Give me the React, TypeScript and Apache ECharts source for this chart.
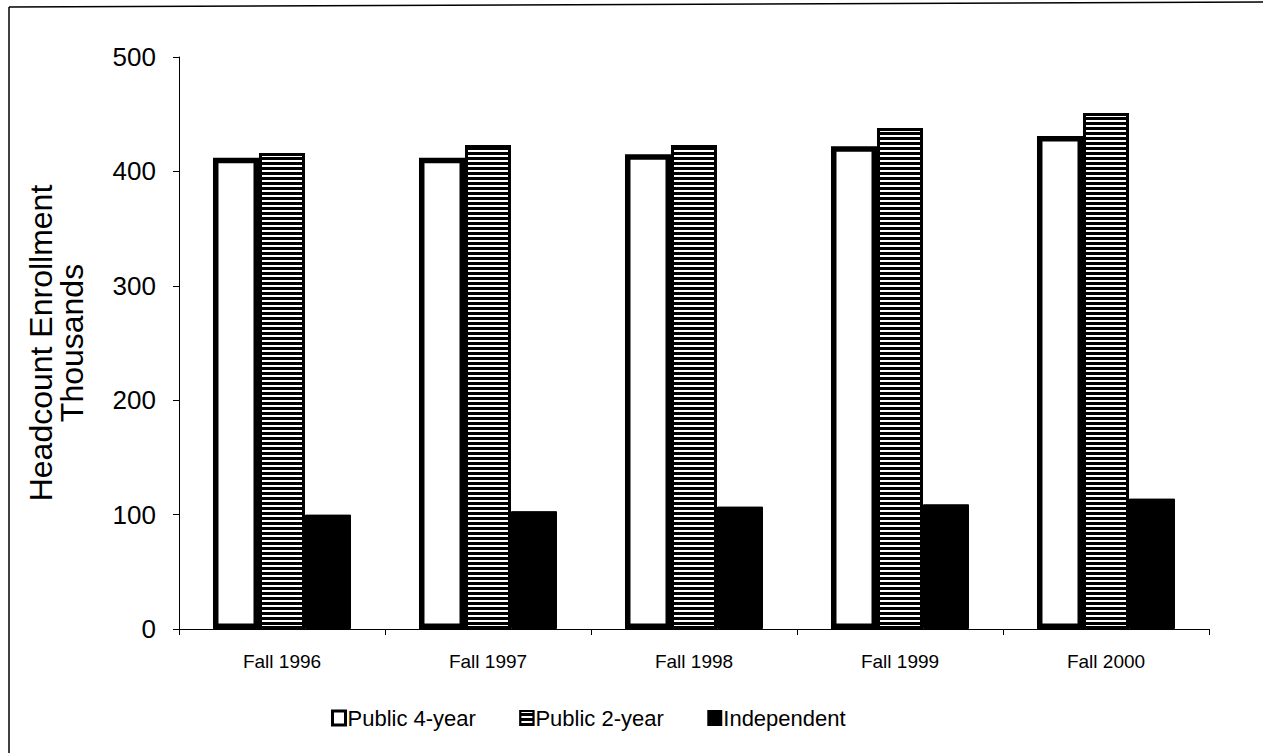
import React, { useEffect, useRef } from "react";
import * as echarts from "echarts";

const categories = ["Fall 1996", "Fall 1997", "Fall 1998", "Fall 1999", "Fall 2000"];
const public4 = [412, 412, 415, 422, 431];
const public2 = [416, 423, 423, 438, 451];
const independent = [100, 103, 107, 109, 114];
const seriesNames = ["Public 4-year", "Public 2-year", "Independent"];
const yTicks = { min: 0, max: 500, interval: 100 };

export default function App() {
  const ref = useRef<HTMLDivElement>(null);
  useEffect(() => {
    if (!ref.current) return;
    const chart = echarts.init(ref.current, null, { renderer: "svg" });
    const font = "Liberation Sans, Arial, sans-serif";
    chart.setOption({
      animation: false,
      backgroundColor: "#fff",
      grid: { left: 179, right: 54, top: 57, bottom: 124, containLabel: false },
      legend: {
        data: [
          { name: seriesNames[0], itemStyle: { borderWidth: 3, borderColor: "#000", color: "#fff" } },
          { name: seriesNames[1] },
          { name: seriesNames[2] },
        ],
        top: 702,
        left: 326,
        icon: "rect",
        itemWidth: 13,
        itemHeight: 14,
        itemGap: 43.5,
        textStyle: { fontFamily: font, fontSize: 22, color: "#000", padding: [0, 0, 0, -3] },
      },
      xAxis: {
        type: "category",
        data: categories,
        axisLine: { lineStyle: { color: "#000", width: 1 } },
        axisTick: { show: true, length: 6, lineStyle: { color: "#000" }, alignWithLabel: false },
        axisLabel: { fontFamily: font, fontSize: 19, color: "#000", margin: 23 },
      },
      yAxis: {
        type: "value",
        min: yTicks.min,
        max: yTicks.max,
        interval: yTicks.interval,
        name: "Headcount Enrollment\nThousands",
        nameLocation: "middle",
        nameRotate: 90,
        nameGap: 92,
        nameTextStyle: { fontFamily: font, fontSize: 32, color: "#000", lineHeight: 31 },
        axisLine: { show: true, lineStyle: { color: "#000", width: 1 } },
        axisTick: { show: true, length: 6, lineStyle: { color: "#000" } },
        splitLine: { show: false },
        axisLabel: { fontFamily: font, fontSize: 26, color: "#000", margin: 23 },
      },
      series: [
        {
          name: seriesNames[0],
          type: "bar",
          data: public4,
          barGap: "0%",
          barCategoryGap: "33%",
          itemStyle: { color: "#fff", borderColor: "#000", borderWidth: 5.5 },
        },
        {
          name: seriesNames[1],
          type: "bar",
          data: public2,
          barGap: "0%",
          barCategoryGap: "33%",
          itemStyle: {
            color: "#000",
            borderColor: "#000",
            borderWidth: 3,
            decal: {
              symbol: "rect",
              symbolSize: 1,
              color: "#fff",
              dashArrayX: [1, 0],
              dashArrayY: [2, 3],
              rotation: 0,
            },
          },
        },
        {
          name: seriesNames[2],
          type: "bar",
          data: independent,
          barGap: "0%",
          barCategoryGap: "33%",
          itemStyle: { color: "#000", borderColor: "#000", borderWidth: 1 },
        },
      ],
      graphic: [
        { type: "line", shape: { x1: 9, y1: 7, x2: 9, y2: 753 }, style: { stroke: "#000", lineWidth: 1.5 } },
        { type: "line", shape: { x1: 9, y1: 7, x2: 1263, y2: 2 }, style: { stroke: "#000", lineWidth: 1.5 } },
      ],
    });
    return () => chart.dispose();
  }, []);
  return (
    <div
      ref={ref}
      style={{ position: "absolute", left: 0, top: 0, width: 1263, height: 753 }}
    />
  );
}
